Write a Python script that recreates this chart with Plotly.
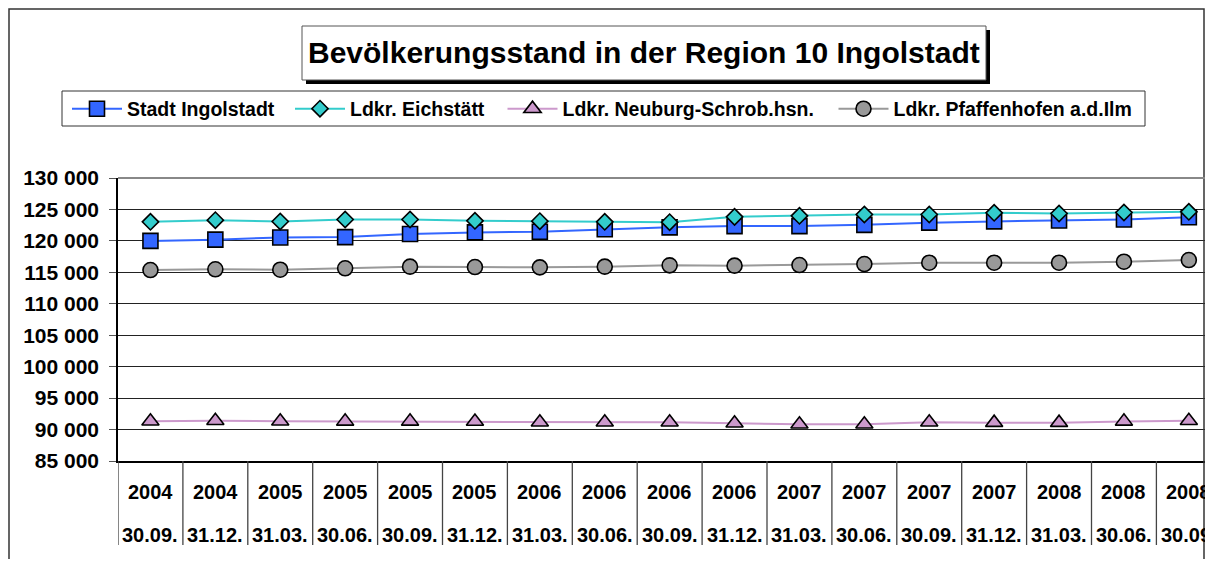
import plotly.graph_objects as go

# ---------------- data ----------------
years = ["2004", "2004", "2005", "2005", "2005", "2005", "2006", "2006", "2006",
         "2006", "2007", "2007", "2007", "2007", "2008", "2008", "2008"]
dates = ["30.09.", "31.12.", "31.03.", "30.06.", "30.09.", "31.12.", "31.03.", "30.06.",
         "30.09.", "31.12.", "31.03.", "30.06.", "30.09.", "31.12.", "31.03.", "30.06.", "30.09."]

ingolstadt = [120000, 120200, 120550, 120600, 121100, 121350, 121450, 121850, 122150,
              122350, 122350, 122550, 122900, 123100, 123250, 123400, 123750]
eichstaett = [123030, 123300, 123090, 123400, 123400, 123190, 123140, 123030, 122980,
              123820, 123980, 124200, 124200, 124460, 124360, 124520, 124620]
neuburg = [91320, 91400, 91320, 91300, 91300, 91270, 91160, 91160, 91150,
           91000, 90850, 90850, 91150, 91100, 91100, 91300, 91400]
pfaffenhofen = [115370, 115480, 115420, 115640, 115900, 115840, 115790, 115900, 116110,
                116060, 116160, 116320, 116530, 116530, 116530, 116690, 116960]

series_names = ["Stadt Ingolstadt", "Ldkr. Eichstätt", "Ldkr. Neuburg-Schrob.hsn.",
                "Ldkr. Pfaffenhofen a.d.Ilm"]
y_tickvals = [85000, 90000, 95000, 100000, 105000, 110000, 115000, 120000, 125000, 130000]
y_ticktext = ["85 000", "90 000", "95 000", "100 000", "105 000", "110 000",
              "115 000", "120 000", "125 000", "130 000"]
title_text = "Bevölkerungsstand in der Region 10 Ingolstadt"

# ---------------- layout helpers ----------------
# the page body adds an 8px margin, so the figure is made smaller than the window
OFF = 8
W, H = 1213 - 2 * OFF, 567 - 2 * OFF
ML, MT = 118 - OFF, 178 - OFF
MB = H - (461 - OFF)
MR = 0
PW, PH = W - ML - MR, H - MT - MB
FONT = "Liberation Sans, Arial, sans-serif"


def px(x):  # page pixel x -> paper
    return (x - OFF - ML) / PW


def py(y):  # page pixel y -> paper
    return (H - MB - (y - OFF)) / PH


series = [
    (ingolstadt, "#3366FF", "#3366FF", "square", 15, "legend"),
    (eichstaett, "#33CCCC", "#33CCCC", "diamond", 12.5, "legend2"),
    (neuburg, "#CC99CC", "#CC99CC", "triangle-up", 15, "legend3"),
    (pfaffenhofen, "#999999", "#999999", "circle", 15, "legend4"),
]

xs = list(range(len(years)))
fig = go.Figure()
for (vals, lc, fc, sym, size, leg), name in zip(series, series_names):
    fig.add_trace(go.Scatter(
        x=xs, y=vals, name=name, mode="lines+markers", legend=leg,
        line=dict(color=lc, width=2),
        marker=dict(symbol=sym, size=size, color=fc, line=dict(color="black", width=1.6)),
    ))

shapes = []
# outer border (drawn just inside the figure's edges)
shapes.append(dict(type="rect", xref="paper", yref="paper", x0=px(9), x1=px(1204),
                   y0=py(9), y1=py(600), line=dict(color="#333333", width=1.5), layer="above"))
# title shadow and box
shapes.append(dict(type="rect", xref="paper", yref="paper", x0=px(306), x1=px(990),
                   y0=py(30), y1=py(84), fillcolor="black", line=dict(width=0), layer="above"))
shapes.append(dict(type="rect", xref="paper", yref="paper", x0=px(302), x1=px(986),
                   y0=py(26), y1=py(80), fillcolor="white", line=dict(color="#555555", width=1),
                   layer="above"))
# legend box
shapes.append(dict(type="rect", xref="paper", yref="paper", x0=px(62), x1=px(1145),
                   y0=py(91), y1=py(126), fillcolor="white", line=dict(color="#333333", width=1),
                   layer="below"))
# top border of plot area (gray)
shapes.append(dict(type="line", xref="paper", yref="paper", x0=0, x1=1, y0=1, y1=1,
                   line=dict(color="#888888", width=2)))
# category separators below the axis
for i in range(len(years) + 1):
    shapes.append(dict(type="line", xref="x", yref="paper", x0=i - 0.5, x1=i - 0.5,
                       y0=0, y1=py(545), line=dict(color="#444444", width=1.3)))

annotations = [dict(text="<b>" + title_text + "</b>", xref="paper", yref="paper",
                    x=px(644), y=py(53), xanchor="center", yanchor="middle", showarrow=False,
                    font=dict(family=FONT, size=30, color="black"))]
for i, (yr, dt) in enumerate(zip(years, dates)):
    annotations.append(dict(text="<b>" + yr + "</b>", xref="x", yref="paper", x=i, y=py(492),
                            xanchor="center", yanchor="middle", showarrow=False,
                            font=dict(family=FONT, size=20, color="black")))
    annotations.append(dict(text="<b>" + dt + "</b>", xref="x", yref="paper", x=i, y=py(535),
                            xanchor="center", yanchor="middle", showarrow=False,
                            font=dict(family=FONT, size=20, color="black")))

leg_font = dict(family=FONT, size=19.5, color="black", weight="bold")
leg_common = dict(orientation="h", xanchor="left", yanchor="middle", y=py(109),
                  bgcolor="rgba(0,0,0,0)", borderwidth=0, font=leg_font, itemwidth=50)

cat_w = 64.9
fig.update_layout(
    width=W, height=H,
    margin=dict(l=ML, r=MR, t=MT, b=MB),
    paper_bgcolor="white", plot_bgcolor="white",
    showlegend=True,
    legend=dict(x=px(67), **leg_common),
    legend2=dict(x=px(290), **leg_common),
    legend3=dict(x=px(502.5), **leg_common),
    legend4=dict(x=px(833.5), **leg_common),
    xaxis=dict(range=[-0.5, -0.5 + PW / cat_w], showticklabels=False, showgrid=False,
               zeroline=False, showline=True, linecolor="black", linewidth=1.5,
               ticks="", fixedrange=True),
    yaxis=dict(range=[85000, 130000], tickvals=y_tickvals, ticktext=y_ticktext,
               showgrid=True, gridcolor="#222222", gridwidth=1, zeroline=False,
               showline=True, linecolor="black", linewidth=1.5,
               ticks="outside", ticklen=7, tickcolor="#555555", ticklabelstandoff=6,
               tickfont=dict(family=FONT, size=21, color="black", weight="bold"),
               fixedrange=True),
    shapes=shapes,
    annotations=annotations,
)

fig.write_html("out.html")
